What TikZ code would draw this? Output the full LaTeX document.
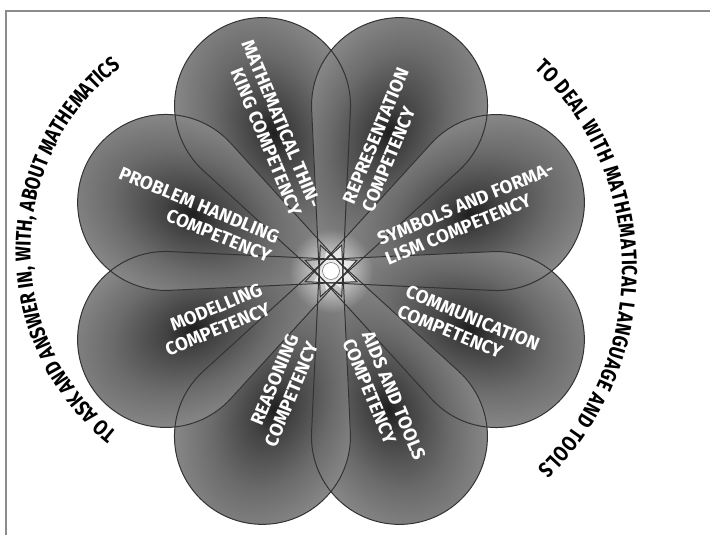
\documentclass[tikz,border=0pt]{standalone}
\usepackage{fontspec}
\setmainfont{Fira Sans}
\newfontfamily\arcfamily[FakeStretch=0.82]{Fira Sans}
\usetikzlibrary{decorations.text,fadings}

% grey body of a petal: dark core along the label, light towards the rim
\pgfdeclareradialshading{petalshade}{\pgfpoint{0bp}{0bp}}{%
  color(0bp)=(black!88); color(5bp)=(black!74); color(15bp)=(black!58);
  color(30bp)=(black!40); color(44bp)=(black!24); color(50bp)=(black!18)}
\tikzfading[name=centreglow, inner color=transparent!0, outer color=transparent!100]

\tikzset{
  petalline/.style={draw=black!80, line width=1pt},
  petallabel/.style={text=white, inner sep=0pt,
    font=\bfseries\fontsize{18.5}{21}\selectfont},
  framerule/.style={draw=black!45, line width=1.5pt},
  hub/.style={circle, fill=white, draw=black!60, line width=0.5pt,
    minimum size=17pt, inner sep=0pt},
}
\newcommand\arcfont{\arcfamily\bfseries\fontsize{21.5}{21.5}\selectfont}

\begin{document}
\begin{tikzpicture}[x=1pt,y=1pt]
\useasboundingbox (0,0) rectangle (710,535);
\coordinate (O) at (331,264);
\coordinate (LC) at (262,284);
\coordinate (RC) at (346,265);

% frame on the top and left
\coordinate (frTR) at (710,524);
\coordinate (frTL) at (6,524);
\coordinate (frBL) at (6,0);
\draw[framerule] (frTR) -- (frTL) -- (frBL);

% petal bodies (tip just beyond the centre, round end of radius 88)
\foreach \a in {112.5,67.5,22.5,-22.5,-67.5,-112.5,-157.5,157.5}{
  \begin{scope}[transform canvas={shift={(331,264)}, rotate=\a}]
    \begin{scope}
      \clip (-28,0) -- (141.6,-79.7) arc[start angle=-115.16, end angle=115.16, radius=88] -- cycle;
      \fill[black!18] (-40,-100) rectangle (280,100);
      \shade[shading=petalshade] (150,0) ellipse [x radius=140, y radius=95];
    \end{scope}
  \end{scope}
}
% light glow at the centre of the flower
\fill[white, path fading=centreglow, fill opacity=0.85] (O) circle (42);

% petal outlines
\foreach \a in {112.5,67.5,22.5,-22.5,-67.5,-112.5,-157.5,157.5}{
  \draw[petalline, shift={(O)}, rotate=\a]
    (-28,0) -- (141.6,-79.7) arc[start angle=-115.16, end angle=115.16, radius=88] -- cycle;
}
\node[hub] (hub) at (O) {};

% competencies
\node[petallabel, rotate=-67.5, align=right] (think) at ([shift={(112.5:155)}]O)
  {MATHEMATICAL THIN-\\KING COMPETENCY};
\node[petallabel, rotate=67.5, align=left] (repr) at ([shift={(67.5:142)}]O)
  {REPRESENTATION\\COMPETENCY};
\node[petallabel, rotate=22.5, align=left] (symb) at ([shift={(22.5:150)}]O)
  {SYMBOLS AND FORMA-\\LISM COMPETENCY};
\node[petallabel, rotate=-22.5, align=left] (comm) at ([shift={(-22.5:149)}]O)
  {COMMUNICATION\\COMPETENCY};
\node[petallabel, rotate=-67.5, align=left] (aids) at ([shift={(-67.5:139)}]O)
  {AIDS AND TOOLS\\COMPETENCY};
\node[petallabel, rotate=67.5, align=right] (reas) at ([shift={(-112.5:129)}]O)
  {REASONING\\COMPETENCY};
\node[petallabel, rotate=22.5, align=right] (model) at ([shift={(-157.5:127)}]O)
  {MODELLING\\COMPETENCY};
\node[petallabel, rotate=-22.5, align=right] (prob) at ([shift={(157.5:147)}]O)
  {PROBLEM HANDLING\\COMPETENCY};

% the two groups written round the flower
\path[decorate, decoration={text along path, text align={fit to path},
    text={|\arcfont|TO ASK AND ANSWER IN, WITH, ABOUT MATHEMATICS}}]
  ([shift={(231.5:231.5)}]LC) arc[start angle=231.5, end angle=127.5, radius=231.5];
\path[decorate, decoration={text along path, text align={fit to path},
    text={|\arcfont|TO DEAL WITH MATHEMATICAL LANGUAGE AND TOOLS}}]
  ([shift={(47:276)}]RC) arc[start angle=47, end angle=-46, radius=276];
\end{tikzpicture}
\end{document}
